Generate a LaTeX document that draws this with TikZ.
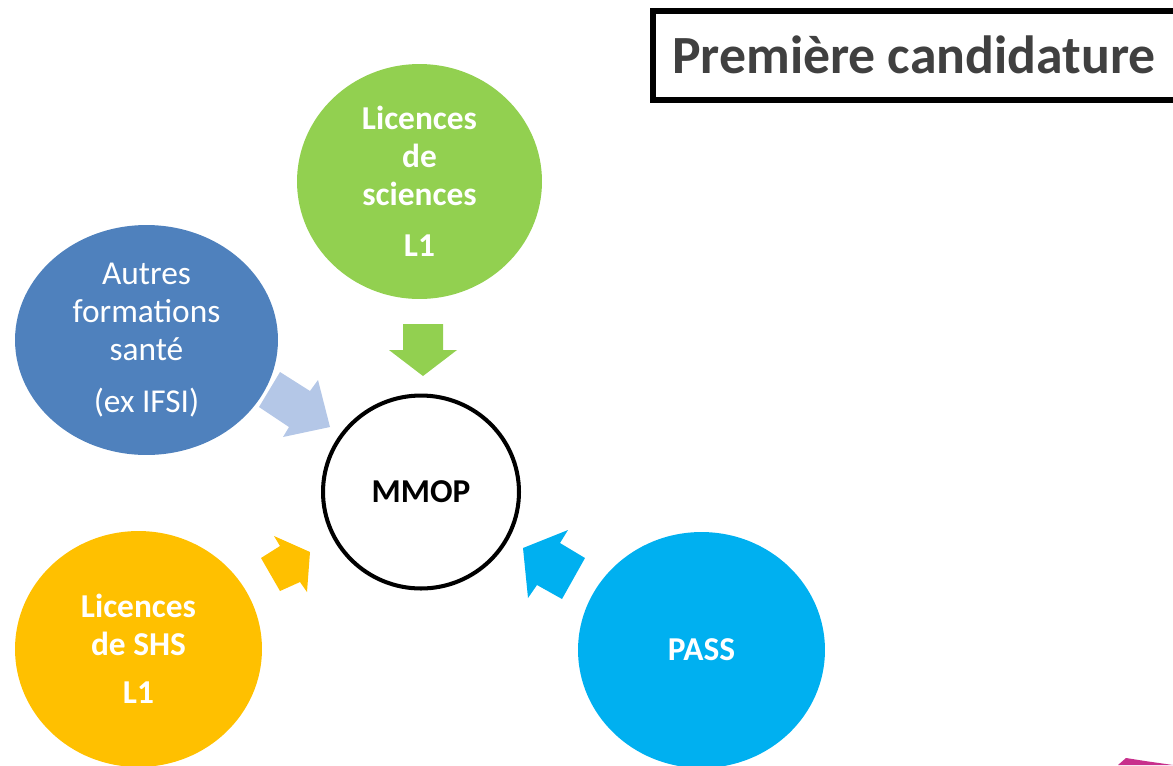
\documentclass[tikz,border=0pt]{standalone}
\usepackage{fontspec}
\setmainfont{Carlito}
\usepackage{xcolor}
\usetikzlibrary{shapes.geometric}
\definecolor{vdarkgray}{HTML}{404040}
\definecolor{vgreen}{HTML}{92D050}
\definecolor{vsteel}{HTML}{4F81BD}
\definecolor{vlightblue}{HTML}{B4C7E7}
\definecolor{vyellow}{HTML}{FFC000}
\definecolor{vcyan}{HTML}{00B0F0}
\definecolor{vmagenta}{HTML}{C8308C}

\tikzset{
	bubble/.style={ellipse, inner sep=0pt, text=white, align=center, font=\fontsize{19}{21.5}\selectfont\bfseries},
}

\begin{document}
\begin{tikzpicture}[x=0.02cm, y=-0.02cm]
		\useasboundingbox (0,0) rectangle (1173,765);
		\clip (0,0) rectangle (1173,765);
		% title
		\draw[color=black, line width=2.9pt] (653,11) rectangle (1190,100);
		\node[anchor=west, text=vdarkgray, font=\fontsize{30.6}{36}\selectfont\bfseries] (title) at (666,55) {Première candidature};
		% bubbles
		\node[bubble, fill=vgreen, minimum width=4.9cm, minimum height=4.7cm] (sciences) at (419.5,181.5) {Licences\\de\\sciences\\[8pt]L1};
		\node[bubble, fill=vsteel, minimum width=5.26cm, minimum height=4.6cm, font=\fontsize{19}{21.5}\selectfont] (sante) at (146.5,340) {Autres\\formations\\santé\\[8pt](ex IFSI)};
		\node[bubble, fill=vyellow, minimum width=4.94cm, minimum height=4.72cm] (shs) at (138.5,649) {Licences\\de SHS\\[6pt]L1};
		\node[bubble, fill=vcyan, minimum width=4.94cm, minimum height=4.72cm] (pass) at (701.5,650) {PASS};
		\node[bubble, draw=black, line width=2.3pt, fill=white, text=black, minimum width=3.92cm, minimum height=3.86cm] (mmop) at (421,492) {MMOP};
		% block arrows
		\fill[color=vgreen] (403,324) -- (443,324) -- (443,350) -- (457,350) -- (423,376) -- (389,350) -- (403,350) -- cycle;
		\fill[color=vlightblue] (280,372) -- (310,391) -- (318,380) -- (330,427) -- (283,437) -- (289,427) -- (259,407) -- cycle;
		\fill[color=vyellow] (261,558) -- (280,591) -- (300,582) -- (307,592) -- (310,552) -- (274,536) -- (280,546) -- cycle;
		\fill[color=vcyan] (523,548) -- (568,530) -- (560,543) -- (585,558) -- (562,599) -- (537,585) -- (528,598) -- cycle;
		\fill[color=vmagenta] (1118,765) -- (1126,758) -- (1145,761) -- (1173,765) -- cycle;
	\end{tikzpicture}
\end{document}
